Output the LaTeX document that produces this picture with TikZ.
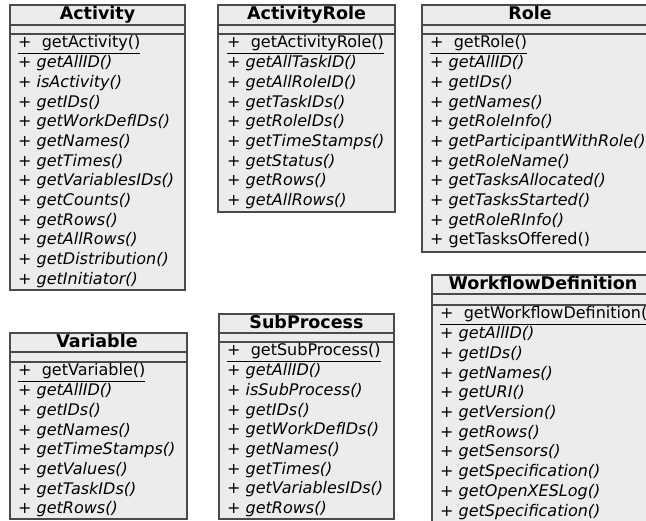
\documentclass[tikz,border=0pt]{standalone}
\usepackage{fontspec}
\setmainfont{DejaVu Sans}
\usetikzlibrary{positioning}
\definecolor{umlfill}{HTML}{ECECEC}
\definecolor{umlline}{HTML}{4A4A4A}

\begin{document}
\begin{tikzpicture}[x=1pt,y=-1pt,
    classbox/.style={draw=umlline, fill=umlfill, line width=1.3pt},
    classrule/.style={draw=umlline, line width=1.3pt},
    classtitle/.style={font=\fontsize{17.5}{20}\selectfont\bfseries, inner sep=0pt, anchor=base},
    classop/.style={font=\fontsize{16}{19}\selectfont\itshape, inner sep=0pt, anchor=base west},
    classstatic/.style={font=\fontsize{16}{19}\selectfont, inner sep=0pt, anchor=base west}]
\useasboundingbox (0,0) rectangle (646,521);
\clip (0,0) rectangle (646,521);

% Activity
\draw[classbox] (10,5) rectangle (185,290);
\draw[classrule] (10,25) -- (185,25) (10,34) -- (185,34);
\node[classtitle] (activity) at (97.5,20) {Activity};
\node[classstatic] (activity-0) at (18,48) {\underline{+\ \ getActivity()}};
\foreach \op [count=\i] in {getAllID(), isActivity(), getIDs(), getWorkDefIDs(),
    getNames(), getTimes(), getVariablesIDs(), getCounts(), getRows(),
    getAllRows(), getDistribution(), getInitiator()}
  \node[classop] (activity-\i) at (18,48+19.7*\i) {+ \op};

% ActivityRole
\draw[classbox] (218,5) rectangle (395,212);
\draw[classrule] (218,25) -- (395,25) (218,34) -- (395,34);
\node[classtitle] (activityrole) at (306.5,20) {ActivityRole};
\node[classstatic] (activityrole-0) at (227,48) {\underline{+\ \ getActivityRole()}};
\foreach \op [count=\i] in {getAllTaskID(), getAllRoleID(), getTaskIDs(),
    getRoleIDs(), getTimeStamps(), getStatus(), getRows(), getAllRows()}
  \node[classop] (activityrole-\i) at (227,48+19.7*\i) {+ \op};

% Role
\draw[classbox] (422,5) rectangle (660,252);
\draw[classrule] (422,25) -- (660,25) (422,34) -- (660,34);
\node[classtitle] (role) at (530,20) {Role};
\node[classstatic] (role-0) at (430,48) {\underline{+\ \ getRole()}};
\foreach \op [count=\i] in {getAllID(), getIDs(), getNames(), getRoleInfo(),
    getParticipantWithRole(), getRoleName(), getTasksAllocated(),
    getTasksStarted(), getRoleRInfo()}
  \node[classop] (role-\i) at (430,48+19.7*\i) {+ \op};
\node[classstatic] (role-10) at (430,48+19.7*10) {+ getTasksOffered()};

% Variable
\draw[classbox] (10,333) rectangle (187,519);
\draw[classrule] (10,352) -- (187,352) (10,362) -- (187,362);
\node[classtitle] (variable) at (97,348) {Variable};
\node[classstatic] (variable-0) at (18,376) {\underline{+\ \ getVariable()}};
\foreach \op [count=\i] in {getAllID(), getIDs(), getNames(), getTimeStamps(),
    getValues(), getTaskIDs(), getRows()}
  \node[classop] (variable-\i) at (18,376+19.7*\i) {+ \op};

% SubProcess
\draw[classbox] (219,314) rectangle (394,519);
\draw[classrule] (219,333) -- (394,333) (219,342) -- (394,342);
\node[classtitle] (subprocess) at (306.5,329) {SubProcess};
\node[classstatic] (subprocess-0) at (227,356) {\underline{+\ \ getSubProcess()}};
\foreach \op [count=\i] in {getAllID(), isSubProcess(), getIDs(), getWorkDefIDs(),
    getNames(), getTimes(), getVariablesIDs(), getRows()}
  \node[classop] (subprocess-\i) at (227,356+19.7*\i) {+ \op};

% WorkflowDefinition
\draw[classbox] (432,275) rectangle (660,530);
\draw[classrule] (432,294) -- (660,294) (432,305) -- (660,305);
\node[classtitle] (workflow) at (543,290) {WorkflowDefinition};
\node[classstatic] (workflow-0) at (440,319) {\underline{+\ \ getWorkflowDefinition()}};
\foreach \op [count=\i] in {getAllID(), getIDs(), getNames(), getURI(),
    getVersion(), getRows(), getSensors(), getSpecification(),
    getOpenXESLog(), getSpecification()}
  \node[classop] (workflow-\i) at (440,319+19.7*\i) {+ \op};
\end{tikzpicture}
\end{document}
